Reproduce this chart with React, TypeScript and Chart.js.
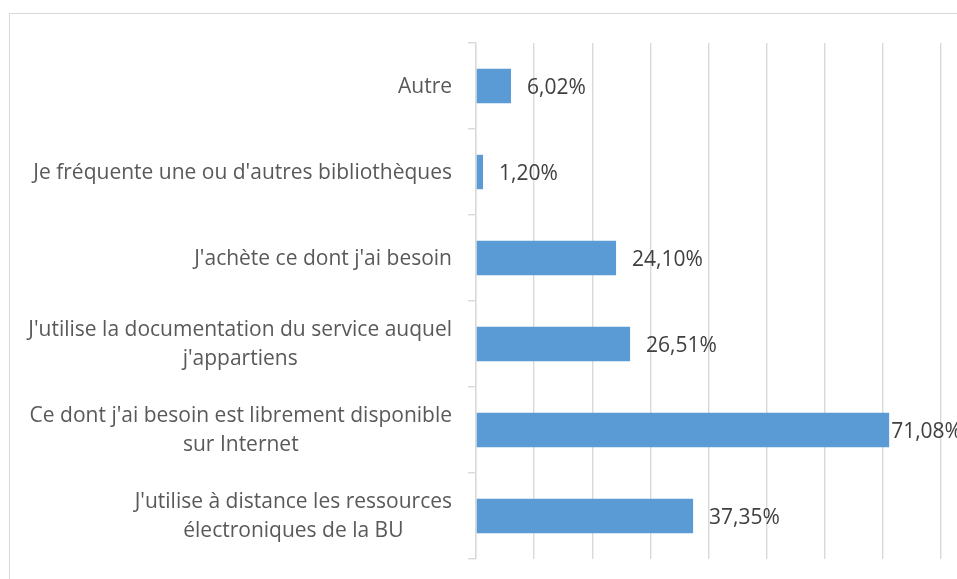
import React, { useEffect, useRef } from "react";
import { Chart, registerables } from "chart.js";

Chart.register(...registerables);

const categories: string[][] = [
  ["Autre"],
  ["Je fréquente une ou d'autres bibliothèques"],
  ["J'achète ce dont j'ai besoin"],
  ["J'utilise la documentation du service auquel", "j'appartiens"],
  ["Ce dont j'ai besoin est librement disponible", "sur Internet"],
  ["J'utilise à distance les ressources", "électroniques de la BU"],
];
const values: number[] = [6.02, 1.2, 24.1, 26.51, 71.08, 37.35];
const valueLabels: string[] = ["6,02%", "1,20%", "24,10%", "26,51%", "71,08%", "37,35%"];

const FONT = "'Open Sans', sans-serif";
const FONT_SIZE = 21;

const labelPlugin = {
  id: "customLabels",
  afterDraw(chart: any) {
    const ctx = chart.ctx;
    const yScale = chart.scales.y;
    const meta = chart.getDatasetMeta(0);
    ctx.save();
    ctx.font = `${FONT_SIZE}px ${FONT}`;
    ctx.textBaseline = "middle";
    // category labels: block right-aligned, lines centered within block
    const rightEdge = chart.chartArea.left - 24;
    const lineH = 29;
    categories.forEach((lines, i) => {
      const y = yScale.getPixelForValue(i);
      const widths = lines.map((l) => ctx.measureText(l).width);
      const blockW = Math.max(...widths);
      const cx = rightEdge - blockW / 2;
      ctx.fillStyle = "#595959";
      ctx.textAlign = "center";
      lines.forEach((l, j) => {
        const ly = y + (j - (lines.length - 1) / 2) * lineH + 1;
        ctx.fillText(l, cx, ly);
      });
    });
    // data labels
    ctx.fillStyle = "#404040";
    ctx.textAlign = "left";
    meta.data.forEach((bar: any, i: number) => {
      const txt = valueLabels[i];
      const w = ctx.measureText(txt).width;
      let x = bar.x + 16;
      if (x + w > chart.width) x = bar.x + 2;
      ctx.fillText(txt, x, bar.y + 2);
    });
    ctx.restore();
  },
};

export default function App() {
  const ref = useRef<HTMLCanvasElement>(null);
  useEffect(() => {
    if (!ref.current) return;
    const chart = new Chart(ref.current, {
      type: "bar",
      data: {
        labels: categories.map((c) => c.join(" ")),
        datasets: [
          {
            data: values,
            backgroundColor: "#5B9BD5",
            borderWidth: 0,
            barPercentage: 0.4,
            categoryPercentage: 1,
          },
        ],
      },
      options: {
        indexAxis: "y",
        animation: false,
        responsive: false,
        devicePixelRatio: 1,
        layout: { padding: { top: 43, bottom: 20, right: 16, left: 0 } },
        plugins: {
          legend: { display: false },
          tooltip: { enabled: false },
          title: { display: false },
        },
        scales: {
          x: {
            min: 0,
            max: 80,
            ticks: { display: false, stepSize: 10 },
            grid: { color: "#d9d9d9", lineWidth: 1.4, drawTicks: false },
            border: { display: false },
            afterFit: (s: any) => {
              s.height = 0;
            },
          },
          y: {
            ticks: { display: false },
            grid: {
              drawOnChartArea: false,
              drawTicks: true,
              tickLength: 8,
              color: "#d9d9d9",
              lineWidth: 1.4,
            },
            border: { display: true, color: "#d9d9d9", width: 1.4 },
            afterFit: (s: any) => {
              s.width = 476;
            },
          },
        },
      },
      plugins: [labelPlugin],
    });
    return () => chart.destroy();
  }, []);
  return (
    <div style={{ position: "fixed", left: 0, top: 0, width: 957, height: 579, background: "#fff", overflow: "hidden" }}>
      <div
        style={{
          position: "absolute",
          left: 9,
          top: 13,
          width: 2000,
          height: 2000,
          border: "1.5px solid #d9d9d9",
        }}
      />
      <canvas ref={ref} width={957} height={579} style={{ position: "absolute", left: 0, top: 0, width: 957, height: 579 }} />
    </div>
  );
}
